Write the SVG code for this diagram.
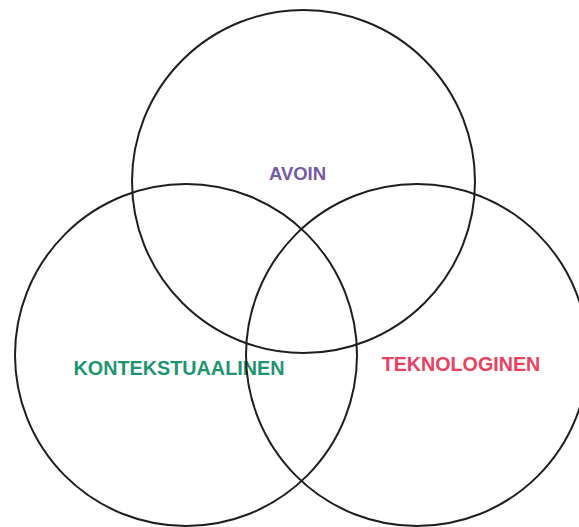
<svg xmlns="http://www.w3.org/2000/svg" width="579" height="527" viewBox="0 0 579 527">
<style>
.c{fill:none;stroke:#1e1e1e;stroke-width:2}
.t{font-family:"Liberation Sans",Arial,sans-serif;font-weight:bold;text-anchor:middle}
</style>
<rect width="579" height="527" fill="#fff"/>
<g id="avoin">
<circle class="c" cx="303.5" cy="181.5" r="171.5"/>
<text class="t" x="297.5" y="180" font-size="18.5" fill="#7559a4">AVOIN</text>
</g>
<g id="kontekstuaalinen">
<circle class="c" cx="186" cy="355" r="171"/>
<text class="t" x="179" y="375" font-size="19.8" fill="#1e9470">KONTEKSTUAALINEN</text>
</g>
<g id="teknologinen">
<circle class="c" cx="417" cy="355" r="171"/>
<text class="t" x="461" y="371" font-size="19.7" fill="#e8425f">TEKNOLOGINEN</text>
</g>
</svg>
